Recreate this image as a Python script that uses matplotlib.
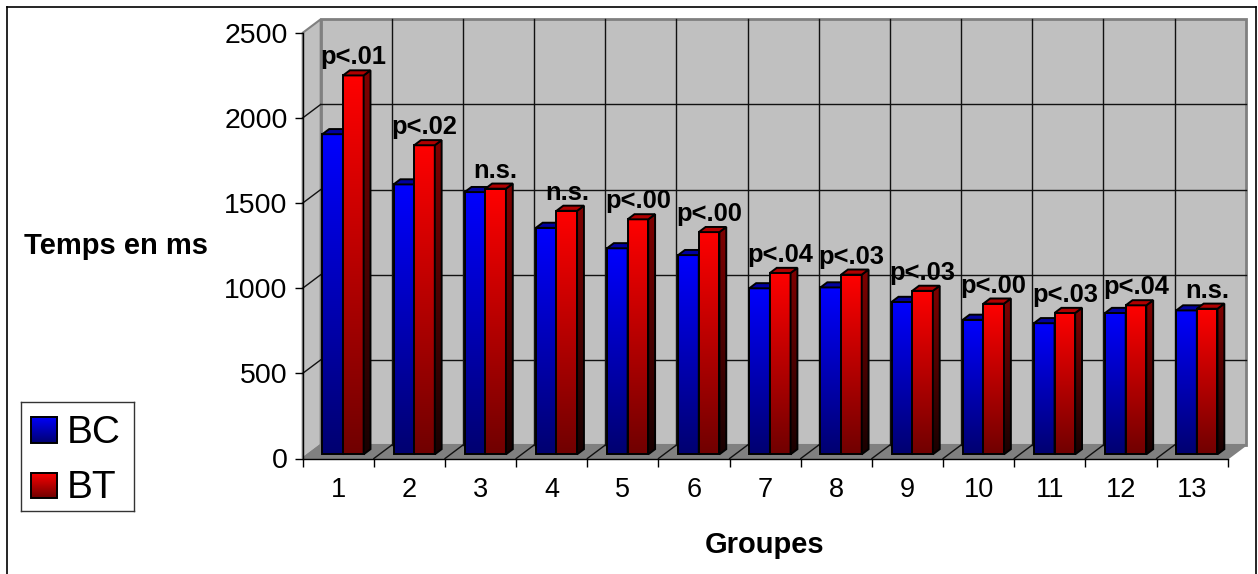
import numpy as np
import matplotlib.pyplot as plt
from matplotlib.patches import Polygon
from matplotlib.colors import LinearSegmentedColormap
from matplotlib.lines import Line2D

groupes = [str(i) for i in range(1, 14)]
bc = [1880, 1585, 1540, 1330, 1210, 1170, 975, 980, 895, 790, 770, 830, 845]
bt = [2225, 1815, 1560, 1430, 1380, 1305, 1065, 1055, 960, 885, 830, 875, 855]
p_labels = ["p<.01", "p<.02", "n.s.", "n.s.", "p<.00", "p<.00", "p<.04",
            "p<.03", "p<.03", "p<.00", "p<.03", "p<.04", "n.s."]
yticks = [0, 500, 1000, 1500, 2000, 2500]

plt.rcParams['font.family'] = ['Liberation Sans', 'DejaVu Sans']

W, H = 1258, 574
fig = plt.figure(figsize=(W / 100, H / 100), dpi=100)

# plot area in pixels (front plane)
x0px, x1px = 302.7, 1227.7
y0px, y1px = 458.5, 32.8
ax = fig.add_axes([x0px / W, 1 - y0px / H, (x1px - x0px) / W, (y0px - y1px) / H])
ax.set_facecolor('none')

n = len(groupes)
vmax = yticks[-1]
px_x = (x1px - x0px) / n
px_y = (y0px - y1px) / vmax
DX = 18 / px_x      # depth offset, in category units
DY = 13.5 / px_y    # depth offset, in value units


def proj(x, v, z):
    # oblique projection: z=0 front plane, z=1 back wall
    return (x + z * DX, v + z * DY)


def add_poly(verts, **kw):
    p = Polygon(verts, clip_on=False, **kw)
    ax.add_patch(p)
    return p


def add_line(a, b, **kw):
    ax.plot([a[0], b[0]], [a[1], b[1]], clip_on=False, **kw)


wall = '#c0c0c0'
edge = '#808080'
add_poly([proj(0, 0, 1), proj(n, 0, 1), proj(n, vmax, 1), proj(0, vmax, 1)],
         fc=wall, ec=edge, lw=2, zorder=0)
add_poly([proj(0, 0, 0), proj(0, 0, 1), proj(0, vmax, 1), proj(0, vmax, 0)],
         fc=wall, ec=edge, lw=1.5, zorder=0)
add_poly([proj(0, 0, 0), proj(n, 0, 0), proj(n, 0, 1), proj(0, 0, 1)],
         fc=edge, ec=edge, lw=1.5, zorder=0.5)

# gridlines on the walls and floor
for v in yticks[1:-1]:
    add_line(proj(0, v, 1), proj(n, v, 1), color='#111111', lw=1, zorder=1)
    add_line(proj(0, v, 0), proj(0, v, 1), color='#111111', lw=1, zorder=1)
for k in range(1, n):
    add_line(proj(k, 0, 1), proj(k, vmax, 1), color='#111111', lw=1, zorder=1)
    add_line(proj(k, 0, 0), proj(k, 0, 1), color='#111111', lw=1, zorder=1)


def grad_face(verts, top, bottom, z):
    xs, ys = zip(*verts)
    g = np.linspace(1, 0, 256).reshape(-1, 1)
    cmap = LinearSegmentedColormap.from_list('g', [bottom, top])
    im = ax.imshow(g, cmap=cmap, extent=[min(xs), max(xs), min(ys), max(ys)],
                   aspect='auto', origin='upper', interpolation='bilinear', zorder=z)
    poly = add_poly(verts, fc='none', ec='black', lw=1.4, zorder=z + 0.01)
    im.set_clip_box(fig.bbox)
    im.set_clip_path(poly)


off, w = 0.198, 0.29
f0, f1 = 0.31, 0.69
styles = [
    dict(front=('#0000ff', '#000070'), side=('#000080', '#000018'), top='#0000a0'),
    dict(front=('#ff0000', '#700000'), side=('#800000', '#180000'), top='#b00000'),
]

z = 2
for k in range(n):
    for s, vals in enumerate([bc, bt]):
        v = vals[k]
        xa = k + off + s * w
        xb = xa + w
        st = styles[s]
        grad_face([proj(xa, 0, f0), proj(xb, 0, f0), proj(xb, v, f0), proj(xa, v, f0)],
                  st['front'][0], st['front'][1], z)
        grad_face([proj(xb, 0, f0), proj(xb, 0, f1), proj(xb, v, f1), proj(xb, v, f0)],
                  st['side'][0], st['side'][1], z + 0.02)
        add_poly([proj(xa, v, f0), proj(xb, v, f0), proj(xb, v, f1), proj(xa, v, f1)],
                 fc=st['top'], ec='black', lw=1.4, zorder=z + 0.03)
        z += 0.1

for k in range(n):
    cx, cy = proj(k + off + 1.5 * w, bt[k], f0)
    ax.annotate(p_labels[k], (cx, cy), xytext=(0, 8), textcoords='offset points',
                ha='center', va='baseline', fontsize=18.4, fontweight='bold',
                zorder=20, annotation_clip=False)

ax.set_xlim(0, n)
ax.set_ylim(0, vmax)
for sp in ['top', 'right']:
    ax.spines[sp].set_visible(False)
for sp in ['left', 'bottom']:
    ax.spines[sp].set_color('black')
    ax.spines[sp].set_linewidth(1)
    ax.spines[sp].set_zorder(1.5)

ax.set_xticks(range(n + 1))
ax.set_xticklabels([])
ax.set_xticks(np.arange(n) + 0.5, labels=groupes, minor=True)
ax.tick_params(axis='x', which='major', length=5.8, width=1, direction='out')
ax.tick_params(axis='x', which='minor', length=0, pad=13, labelsize=19.5)
ax.set_yticks(yticks)
ax.tick_params(axis='y', length=5.8, width=1, direction='out', pad=5, labelsize=20.5)

fig.text(116 / W, 1 - 254 / H, 'Temps en ms', ha='center', va='baseline',
         fontsize=21, fontweight='bold')
fig.text(765 / W, 1 - 553 / H, 'Groupes', ha='center', va='baseline',
         fontsize=21, fontweight='bold')

# legend box
lx0, lx1, ly0, ly1 = 20.7, 134, 401.7, 511
lg = fig.add_axes([lx0 / W, 1 - ly1 / H, (lx1 - lx0) / W, (ly1 - ly0) / H])
lg.set_xticks([])
lg.set_yticks([])
for sp in lg.spines.values():
    sp.set_color('#333333')
    sp.set_linewidth(1)
g = np.linspace(1, 0, 64).reshape(-1, 1)
for name, st, (ya, yb) in [('BC', styles[0], (416.7, 443)), ('BT', styles[1], (472.7, 498.3))]:
    cmap = LinearSegmentedColormap.from_list('g', [st['front'][1], st['front'][0]])
    lg.imshow(g, cmap=cmap, extent=[31, 57, yb, ya], aspect='auto', origin='upper',
              interpolation='bilinear')
    lg.add_patch(Polygon([(31, ya), (57, ya), (57, yb), (31, yb)], fc='none', ec='black', lw=1.4))
    lg.text(67, yb, name, fontsize=28, va='baseline', ha='left')
lg.set_xlim(lx0, lx1)
lg.set_ylim(ly1, ly0)

# chart area border
bx0, bx1, by0 = 7.3 / W, 1256 / W, 1 - 6.7 / H
for xs, ys in [([bx0, bx1], [by0, by0]), ([bx0, bx0], [0, by0]), ([bx1, bx1], [0, by0])]:
    fig.add_artist(Line2D(xs, ys, color='black', lw=1.2, transform=fig.transFigure))

fig.savefig('out.png', dpi=100)
